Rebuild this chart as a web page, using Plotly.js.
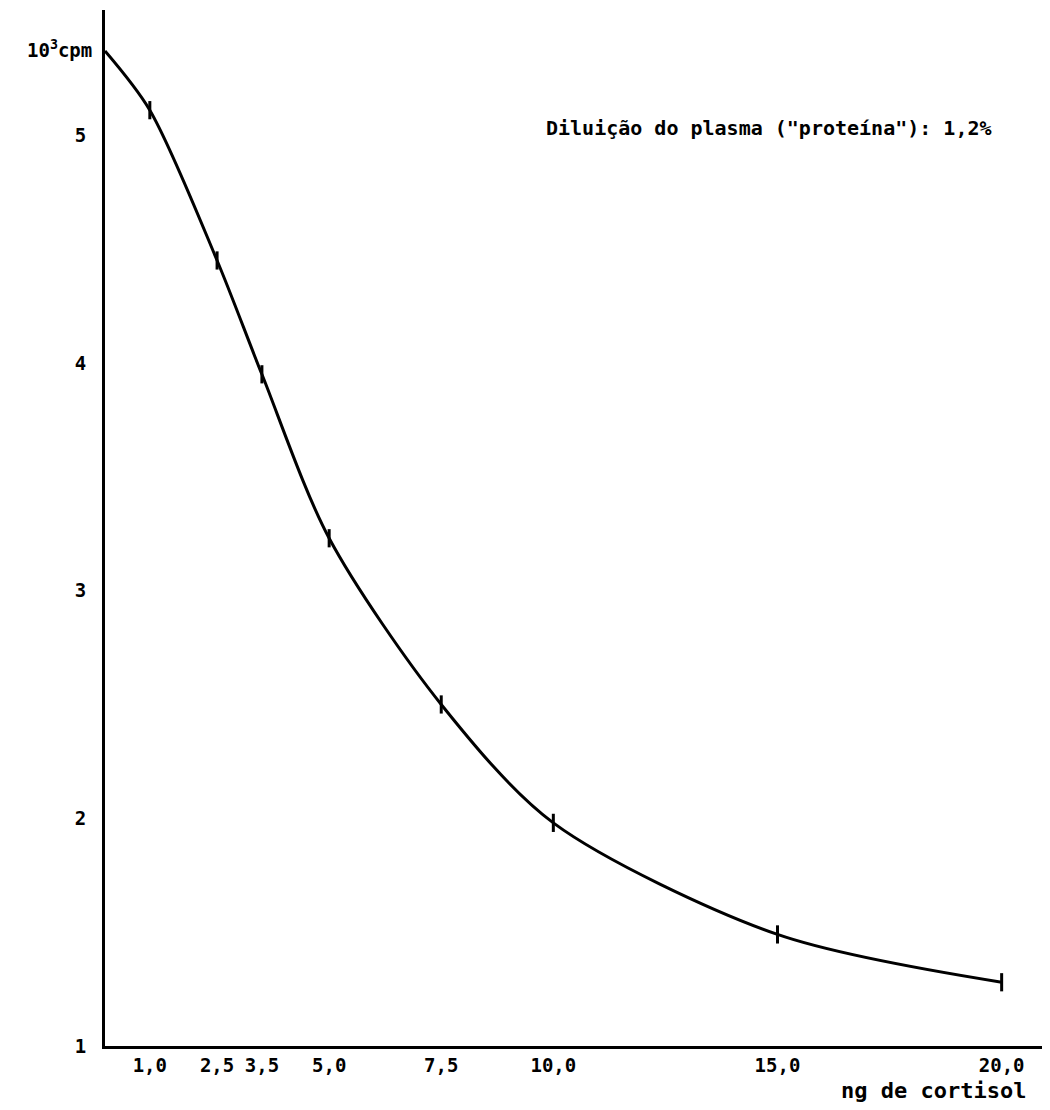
<!DOCTYPE html>
<html>
<head>
<meta charset="utf-8">
<script src="https://cdn.plot.ly/plotly-3.0.1.min.js"></script>
<style>
  html, body { margin: 0; padding: 0; background: #ffffff; }
  #chart { width: 1050px; height: 1110px; }
</style>
</head>
<body>
<div id="chart"></div>
<script>
// ng de cortisol (x) and 10^3 cpm (y)
const doseNg = [1.0, 2.5, 3.5, 5.0, 7.5, 10.0, 15.0, 20.0];
const cpmThousands = [5.11, 4.45, 3.95, 3.23, 2.50, 1.98, 1.49, 1.28];
// curve starts on the y axis
const curveStartX = [0];
const curveStartY = [5.37];
const xTickVals = [1.0, 2.5, 3.5, 5.0, 7.5, 10.0, 15.0, 20.0];
const xTickText = ["1,0", "2,5", "3,5", "5,0", "7,5", "10,0", "15,0", "20,0"];
const yTickVals = [1, 2, 3, 4, 5];
const yTickText = ["1", "2", "3", "4", "5"];

const FONT = "'DejaVu Sans Mono', 'Liberation Mono', monospace";

const curve = {
  x: curveStartX.concat(doseNg),
  y: curveStartY.concat(cpmThousands),
  mode: "lines",
  line: { color: "#000", width: 3, shape: "spline", smoothing: 0.85 },
  hoverinfo: "skip",
  showlegend: false
};
const points = {
  x: doseNg,
  y: cpmThousands,
  mode: "markers",
  marker: { symbol: "line-ns", size: 13, color: "#000", line: { color: "#000", width: 3 } },
  showlegend: false
};

const layout = {
  width: 1050,
  height: 1110,
  margin: { l: 105, r: 8, t: 10, b: 64 },
  paper_bgcolor: "#fff",
  plot_bgcolor: "#fff",
  showlegend: false,
  font: { family: FONT, size: 19, color: "#000", weight: "bold" },
  xaxis: {
    range: [0, 20.9],
    showgrid: false,
    zeroline: false,
    showline: true,
    linecolor: "#000",
    linewidth: 3,
    ticks: "",
    tickvals: xTickVals,
    ticktext: xTickText,
    ticklabelstandoff: 0,
    tickfont: { family: FONT, size: 19, color: "#000", weight: "bold" }
  },
  yaxis: {
    range: [1.0, 5.55],
    showgrid: false,
    zeroline: false,
    showline: true,
    linecolor: "#000",
    linewidth: 3,
    ticks: "",
    tickvals: yTickVals,
    ticktext: yTickText,
    ticklabelstandoff: 12,
    tickfont: { family: FONT, size: 19, color: "#000", weight: "bold" }
  },
  annotations: [
    {
      xref: "paper", yref: "paper", x: -0.012, y: 0.962,
      xanchor: "right", yanchor: "middle",
      text: "10<sup>3</sup>cpm", showarrow: false,
      font: { family: FONT, size: 19, color: "#000", weight: "bold" }
    },
    {
      xref: "paper", yref: "paper", x: 0.985, y: -0.043,
      xanchor: "right", yanchor: "middle",
      text: "ng de cortisol", showarrow: false,
      font: { family: FONT, size: 22, color: "#000", weight: "bold" }
    },
    {
      xref: "paper", yref: "paper", x: 0.468, y: 0.886,
      xanchor: "left", yanchor: "middle",
      text: "Diluição do plasma (\"proteína\"): 1,2%", showarrow: false,
      font: { family: FONT, size: 20, color: "#000", weight: "bold" }
    }
  ]
};

Plotly.newPlot("chart", [curve, points], layout, { displayModeBar: false, staticPlot: true });
</script>
</body>
</html>
